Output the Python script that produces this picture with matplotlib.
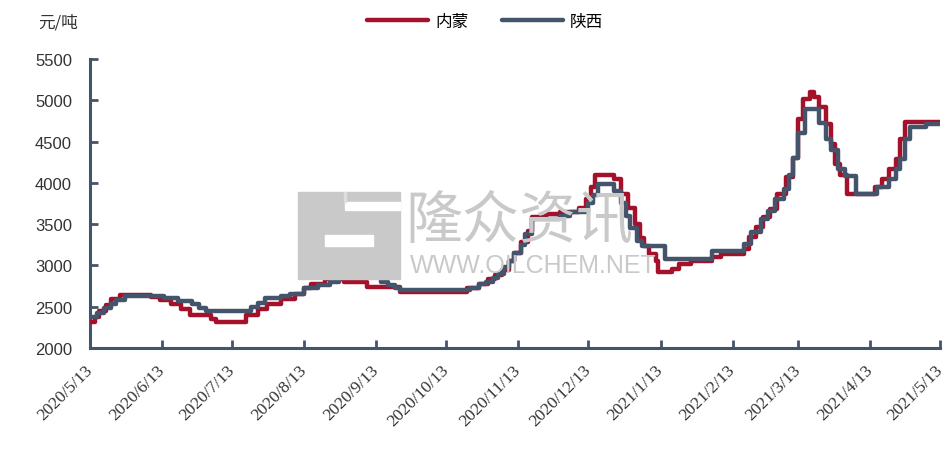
import numpy as np
import pandas as pd
import matplotlib
matplotlib.use("Agg")
import matplotlib.pyplot as plt
import matplotlib.transforms as mtransforms
from matplotlib.patches import Rectangle

plt.rcParams['font.family'] = ['Noto Sans CJK SC', 'DejaVu Sans']

### DATA ###

start = pd.Timestamp("2020-05-13")

# 陕西: day offset from start, price (元/吨)
sx_days = [0, 3, 6, 9, 11, 15, 32, 38, 44, 47, 50, 69, 72, 75, 82, 86, 92, 98, 103, 107,
           125, 128, 131, 133, 163, 167, 170, 173, 175, 178, 180, 182, 185, 187, 190, 202,
           206, 214, 216, 218, 225, 228, 230, 232, 235, 237, 247, 267, 281, 284, 288, 291,
           294, 298, 300, 302, 304, 307, 313, 316, 318, 321, 324, 329, 338, 343, 346, 348,
           350, 352, 359, 365]
sx_vals = [2380, 2420, 2480, 2530, 2580, 2630, 2600, 2570, 2530, 2480, 2450, 2500, 2550, 2600,
           2630, 2650, 2720, 2760, 2800, 2860, 2800, 2760, 2720, 2700, 2730, 2770, 2800, 2850,
           2900, 2980, 3050, 3150, 3250, 3380, 3560, 3600, 3650, 3750, 3850, 3990, 3900, 3750,
           3600, 3450, 3300, 3240, 3080, 3180, 3260, 3400, 3560, 3660, 3800, 3920, 4100, 4300,
           4600, 4900, 4720, 4530, 4400, 4170, 4080, 3860, 3950, 4050, 4170, 4290, 4530, 4680,
           4710, 4710]

# 内蒙
nm_days = [0, 2, 4, 7, 9, 13, 26, 30, 35, 39, 43, 52, 54, 67, 72, 76, 82, 88, 92, 95, 101,
           109, 119, 133, 162, 167, 171, 174, 177, 180, 182, 185, 188, 190, 196, 202, 210,
           213, 215, 217, 225, 228, 231, 234, 236, 238, 240, 243, 244, 250, 253, 258, 267,
           271, 281, 283, 286, 289, 292, 295, 299, 302, 304, 306, 309, 311, 313, 316, 318,
           320, 322, 325, 337, 340, 343, 346, 348, 350, 365]
nm_vals = [2320, 2380, 2450, 2520, 2590, 2640, 2620, 2580, 2530, 2470, 2400, 2350, 2310, 2400,
           2470, 2530, 2590, 2650, 2720, 2780, 2830, 2800, 2740, 2680, 2720, 2780, 2830, 2880,
           2950, 3050, 3150, 3280, 3420, 3590, 3620, 3650, 3700, 3800, 3950, 4100, 4050, 3870,
           3700, 3500, 3330, 3230, 3140, 3050, 2920, 2960, 3020, 3050, 3100, 3140, 3200, 3340,
           3460, 3590, 3680, 3860, 4070, 4300, 4770, 5020, 5100, 5040, 4920, 4710, 4470, 4230,
           4100, 3860, 3950, 4050, 4170, 4290, 4530, 4740, 4740]

tick_labels = ["2020/5/13", "2020/6/13", "2020/7/13", "2020/8/13", "2020/9/13",
               "2020/10/13", "2020/11/13", "2020/12/13", "2021/1/13", "2021/2/13",
               "2021/3/13", "2021/4/13", "2021/5/13"]
y_ticks = [2000, 2500, 3000, 3500, 4000, 4500, 5000, 5500]

red = "#A5102A"
navy = "#44546A"

### PLOT ###

fig = plt.figure(figsize=(9.45, 4.64), dpi=100)
ax = fig.add_axes([0.0952, 0.248, 0.8995, 0.6227])

# watermark logo + text, behind the lines
def px_rect(x0, y0, x1, y1, c):
    fig.patches.append(Rectangle((x0 / 945, 1 - y1 / 464), (x1 - x0) / 945, (y1 - y0) / 464,
                                 transform=fig.transFigure, color=c, zorder=0))

px_rect(298, 193, 400, 280, "#c9c9c9")
px_rect(345, 203, 400, 211, "white")
px_rect(325, 236, 373, 247, "white")
px_rect(344, 193, 346, 203, "#dedede")

wm = dict(transform=fig.transFigure, color="#c9c9c9", zorder=0)
fig.text(405 / 945, 1 - 221 / 464, "隆众资讯", fontsize=41, va="center", ha="left", **wm)
fig.text(410 / 945, 1 - 266 / 464, "WWW.OILCHEM.NET", fontsize=18, va="center", ha="left",
         family="Liberation Sans", **wm)
ax.set_facecolor("none")

sx_dates = [start + pd.Timedelta(days=d) for d in sx_days]
nm_dates = [start + pd.Timedelta(days=d) for d in nm_days]

ax.plot(nm_dates, nm_vals, color=red, lw=3.2, drawstyle="steps-post", label="内蒙",
        solid_capstyle="round", zorder=3)
ax.plot(sx_dates, sx_vals, color=navy, lw=3.2, drawstyle="steps-post", label="陕西",
        solid_capstyle="round", zorder=4)

ax.set_ylim(2000, 5500)
ax.set_yticks(y_ticks)
ax.set_xlim(start, start + pd.Timedelta(days=365))
tick_dates = pd.to_datetime(tick_labels, format="%Y/%m/%d")
ax.set_xticks(tick_dates)
ax.set_xticklabels(tick_labels, rotation=45, ha="right", va="center", rotation_mode="anchor",
                   family="Liberation Serif", fontsize=12.5, color="#333333")
shift = mtransforms.ScaledTranslation(-4 / 100, 0, fig.dpi_scale_trans)
for lab in ax.get_xticklabels():
    lab.set_transform(lab.get_transform() + shift)
for lab in ax.get_yticklabels():
    lab.set_family("Liberation Sans")
    lab.set_fontsize(12)
    lab.set_color("#333333")

for s in ["top", "right"]:
    ax.spines[s].set_visible(False)
for s in ["left", "bottom"]:
    ax.spines[s].set_color(navy)
    ax.spines[s].set_linewidth(2.2)
ax.tick_params(axis="both", direction="in", length=6, width=2, color=navy)
ax.tick_params(axis="y", pad=13)
ax.tick_params(axis="x", pad=14)

fig.text(38 / 945, 1 - 23 / 464, "元/吨", fontsize=12, va="center", ha="left", color="#333333")

ax.legend(loc="center", bbox_to_anchor=(485 / 945, 1 - 22 / 464), bbox_transform=fig.transFigure,
          ncol=2, frameon=False, fontsize=12, handlelength=3.7, handletextpad=0.4,
          columnspacing=2.0)

fig.savefig("out.png", dpi=100)
